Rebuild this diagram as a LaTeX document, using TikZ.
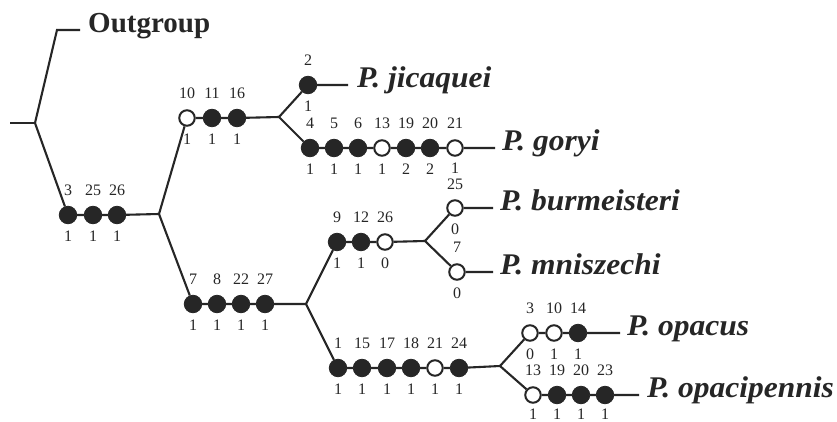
\documentclass[tikz,border=0pt]{standalone}
\usepackage{fontspec}
\setmainfont{Liberation Serif}
\definecolor{ink}{HTML}{262626}
\newcommand{\chs}[7][21]{%
  \node[#5] (#2) at (#3,#4) {};
  \node[num] (#2t) at (#3,#4-25) {#6};
  \node[num] (#2b) at (#3,#4+#1) {#7};}
\newcommand{\tx}[1]{\scalebox{1.05}[1]{#1}}
\begin{document}
\begin{tikzpicture}[x=1pt,y=-1pt,
  br/.style={draw=ink,line width=2.1pt},
  fchar/.style={circle,fill=ink,draw=ink,line width=0.8pt,minimum size=17.5pt,inner sep=0pt},
  ochar/.style={circle,fill=white,draw=ink,line width=2pt,minimum size=15.5pt,inner sep=0pt},
  num/.style={font=\fontsize{16}{16}\selectfont,text=ink,inner sep=0pt},
  taxon/.style={font=\fontsize{30}{31}\selectfont\bfseries\itshape,text=ink,anchor=mid west,inner ysep=0pt},
  outg/.style={font=\fontsize{29}{30}\selectfont\bfseries,text=ink,anchor=mid west,inner ysep=0pt}]
\useasboundingbox[fill=white] (0,0) rectangle (837,422);
% root and outgroup
\coordinate (r0) at (10,123);
\coordinate (r) at (35,123);
\coordinate (og) at (57,30);
\node[outg,inner xsep=8pt] (out) at (80,30) {Outgroup};
% group A
\chs{a1}{68}{215}{fchar}{3}{1}
\chs{a2}{93}{215}{fchar}{25}{1}
\chs{a3}{117}{215}{fchar}{26}{1}
\coordinate (n1) at (159,214);
% group B
\chs{b1}{187}{118}{ochar}{10}{1}
\chs{b2}{212}{118}{fchar}{11}{1}
\chs{b3}{237}{118}{fchar}{16}{1}
\coordinate (n2) at (279,117);
% jicaquei
\chs{c2}{308}{85}{fchar}{2}{1}
\node[taxon,inner xsep=9pt] (jic) at (348,85) {\tx{P. jicaquei}};
% goryi
\chs{g1}{310}{148}{fchar}{4}{1}
\chs{g2}{334}{148}{fchar}{5}{1}
\chs{g3}{358}{148}{fchar}{6}{1}
\chs{g4}{382}{148}{ochar}{13}{1}
\chs{g5}{406}{148}{fchar}{19}{2}
\chs{g6}{430}{148}{fchar}{20}{2}
\chs[20]{g7}{455}{148}{ochar}{21}{1}
\node[taxon,inner xsep=7pt] (gor) at (495,148) {\tx{P. goryi}};
% group C
\chs{k1}{193}{304}{fchar}{7}{1}
\chs{k2}{217}{304}{fchar}{8}{1}
\chs{k3}{241}{304}{fchar}{22}{1}
\chs{k4}{265}{304}{fchar}{27}{1}
\coordinate (n3) at (306,304);
% group D
\chs{d1}{337}{242}{fchar}{9}{1}
\chs{d2}{361}{242}{fchar}{12}{1}
\chs{d3}{385}{242}{ochar}{26}{0}
\coordinate (n4) at (425,241);
\node[ochar] (bu) at (455,208) {};
\node[num] (but) at (455,184) {25};
\node[num] (bub) at (455,229) {0};
\node[taxon,inner xsep=7pt] (bur) at (493,208) {\tx{P. burmeisteri}};
\chs{mn}{457}{272}{ochar}{7}{0}
\node[taxon,inner xsep=7pt] (mni) at (493,272) {\tx{P. mniszechi}};
% group E
\chs{e1}{338}{368}{fchar}{1}{1}
\chs{e2}{362}{368}{fchar}{15}{1}
\chs{e3}{387}{368}{fchar}{17}{1}
\chs{e4}{411}{368}{fchar}{18}{1}
\chs{e5}{435}{368}{ochar}{21}{1}
\chs{e6}{459}{368}{fchar}{24}{1}
\coordinate (n5) at (500,366);
% opacus
\chs{o1}{530}{333}{ochar}{3}{0}
\chs{o2}{554}{333}{ochar}{10}{1}
\chs{o3}{578}{333}{fchar}{14}{1}
\node[taxon,inner xsep=7pt] (opa) at (620,333) {\tx{P. opacus}};
% opacipennis
\chs[19]{p1}{533}{395}{ochar}{13}{1}
\chs[19]{p2}{557}{395}{fchar}{19}{1}
\chs[19]{p3}{581}{395}{fchar}{20}{1}
\chs[19]{p4}{605}{395}{fchar}{23}{1}
\node[taxon,inner xsep=8pt] (opp) at (639,395) {\tx{P. opacipennis}};
% branches
\draw[br] (r0) -- (r);
\draw[br] (r) -- (og) -- (out.mid west);
\draw[br] (r) -- (a1) -- (a2) -- (a3) -- (n1);
\draw[br] (n1) -- (b1) -- (b2) -- (b3) -- (n2);
\draw[br] (n2) -- (c2) -- (jic.mid west);
\draw[br] (n2) -- (g1) -- (g2) -- (g3) -- (g4) -- (g5) -- (g6) -- (g7) -- (gor.mid west);
\draw[br] (n1) -- (k1) -- (k2) -- (k3) -- (k4) -- (n3);
\draw[br] (n3) -- (d1) -- (d2) -- (d3) -- (n4);
\draw[br] (n4) -- (bu) -- (bur.mid west);
\draw[br] (n4) -- (mn) -- (mni.mid west);
\draw[br] (n3) -- (e1) -- (e2) -- (e3) -- (e4) -- (e5) -- (e6) -- (n5);
\draw[br] (n5) -- (o1) -- (o2) -- (o3) -- (opa.mid west);
\draw[br] (n5) -- (p1) -- (p2) -- (p3) -- (p4) -- (opp.mid west);
\end{tikzpicture}
\end{document}
